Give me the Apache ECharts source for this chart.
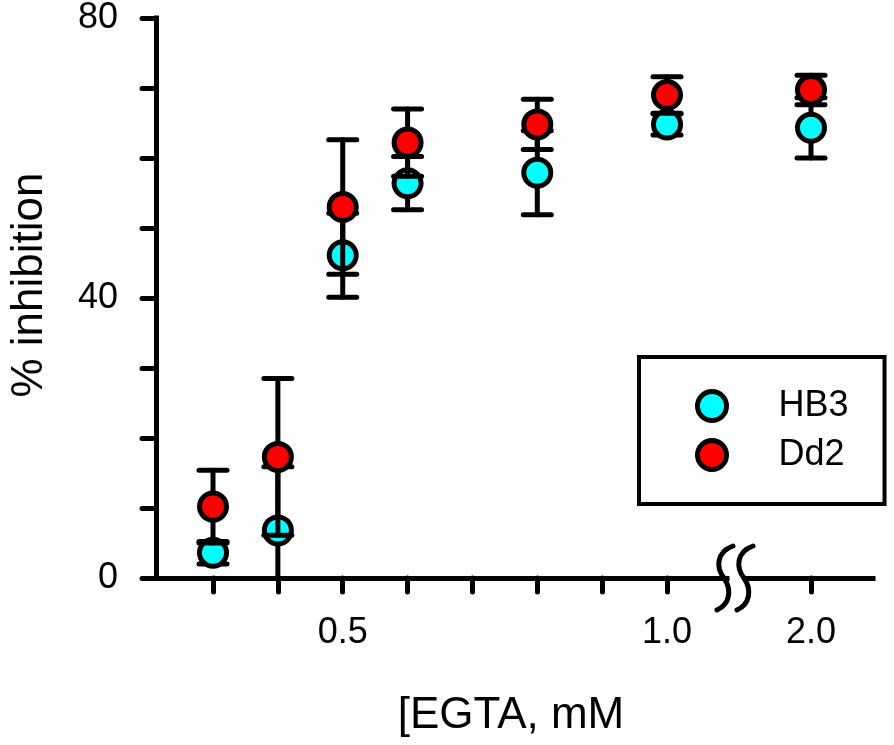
<!DOCTYPE html>
<html><head><meta charset="utf-8">
<script src="https://cdn.jsdelivr.net/npm/echarts@6/dist/echarts.min.js"></script>
<style>html,body{margin:0;padding:0;background:#fff}#c{width:894px;height:745px}</style>
</head><body><div id="c"></div>
<script>
// ---- data ----
const egta = [0.3, 0.4, 0.5, 0.6, 0.8, 1.0, 2.0];
const hb3Mean = [3.6, 6.8, 46.1, 56.4, 57.9, 64.8, 64.2];
const hb3Err  = [1.6, 9.1, 6.0, 3.8, 6.0, 1.5, 4.3];
const dd2Mean = [10.2, 17.3, 53.0, 62.2, 64.8, 69.0, 69.6];
const dd2Err  = [5.2, 11.2, 9.6, 4.8, 3.6, 2.6, 2.1];
const xTicksLeft = [0.3, 0.4, 0.5, 0.6, 0.7, 0.8, 0.9, 1.0];
const xLabelsLeft = [0.5, 1.0];
const xTicksRight = [2.0];
const xLabelsRight = [2.0];
const yLabels = [0, 40, 80];
const breakRange = [1.1, 1.9];
const seriesNames = ['HB3', 'Dd2'];

const FONT = 'Liberation Sans, Arial, sans-serif';
const LW = 5;
const chart = echarts.init(document.getElementById('c'), null, {renderer: 'canvas'});

function pick(g, arrFn) {
  const out = [];
  egta.forEach((x, i) => {
    const inLeft = x < breakRange[0];
    if ((g === 0 && inLeft) || (g === 1 && x > breakRange[1])) out.push(arrFn(x, i));
  });
  return out;
}

function errRender(params, api) {
  const x = api.value(0), lo = api.value(1), hi = api.value(2);
  const pHi = api.coord([x, hi]), pLo = api.coord([x, lo]);
  const w = 14;
  const style = {stroke: '#000', lineWidth: LW, lineCap: 'round'};
  return {type: 'group', children: [
    {type: 'line', shape: {x1: pHi[0], y1: pHi[1], x2: pLo[0], y2: pLo[1]}, style: style},
    {type: 'line', shape: {x1: pHi[0] - w, y1: pHi[1], x2: pHi[0] + w, y2: pHi[1]}, style: style},
    {type: 'line', shape: {x1: pLo[0] - w, y1: pLo[1], x2: pLo[0] + w, y2: pLo[1]}, style: style}
  ]};
}

const means = [hb3Mean, dd2Mean];
const errs = [hb3Err, dd2Err];
const colors = ['#00FFFF', '#FF0000'];
const series = [];
[0, 1].forEach(g => {
  [0, 1].forEach(s => {
    series.push({
      name: seriesNames[s] + ' error', type: 'custom', xAxisIndex: g, yAxisIndex: g,
      clip: true, z: 2 + s * 2, silent: true,
      renderItem: errRender,
      data: pick(g, (x, i) => [x, means[s][i] - errs[s][i], means[s][i] + errs[s][i]])
    });
    series.push({
      name: seriesNames[s], type: 'scatter', xAxisIndex: g, yAxisIndex: g,
      z: 3 + s * 2, symbol: 'circle', symbolSize: 27,
      itemStyle: {color: colors[s], borderColor: '#000', borderWidth: LW, opacity: 1},
      data: pick(g, (x, i) => [x, means[s][i]])
    });
  });
});

const axisLineStyle = {color: '#000', width: LW, cap: 'square'};
const tickStyle = {color: '#000', width: LW, cap: 'round'};
const labelStyle = {color: '#000', fontSize: 36, fontFamily: FONT};

function breakMark(dx) {
  const st = {stroke: '#000', lineWidth: LW, fill: null, lineCap: 'round'};
  return [
    {type: 'bezierCurve', z: 10, shape: {x1: 733 + dx, y1: 546, cpx1: 716 + dx, cpy1: 552, cpx2: 716 + dx, cpy2: 568, x2: 724 + dx, y2: 578}, style: st},
    {type: 'bezierCurve', z: 10, shape: {x1: 724 + dx, y1: 578, cpx1: 732 + dx, cpy1: 590, cpx2: 730 + dx, cpy2: 604, x2: 717 + dx, y2: 610}, style: st}
  ];
}

const option = {
  animation: false,
  backgroundColor: '#fff',
  grid: [
    {left: 156, top: 17, width: 571, height: 561},
    {left: 748, top: 17, width: 125, height: 561}
  ],
  xAxis: [
    {type: 'value', gridIndex: 0, min: 0.2121, max: 1.0925,
     splitLine: {show: false},
     axisLine: {show: true, lineStyle: axisLineStyle},
     axisTick: {show: true, length: 14, customValues: xTicksLeft, lineStyle: tickStyle},
     axisLabel: Object.assign({margin: 37, customValues: xLabelsLeft, formatter: v => Number(v).toFixed(1)}, labelStyle)},
    {type: 'value', gridIndex: 1, min: 1.9029, max: 2.0956,
     splitLine: {show: false},
     axisLine: {show: true, lineStyle: axisLineStyle},
     axisTick: {show: true, length: 14, customValues: xTicksRight, lineStyle: tickStyle},
     axisLabel: Object.assign({margin: 37, customValues: xLabelsRight, formatter: v => Number(v).toFixed(1)}, labelStyle)}
  ],
  yAxis: [
    {type: 'value', gridIndex: 0, min: 0, max: 80, interval: 10,
     splitLine: {show: false},
     axisLine: {show: true, lineStyle: axisLineStyle},
     axisTick: {show: true, length: 14, lineStyle: tickStyle},
     axisLabel: Object.assign({margin: 38, customValues: yLabels}, labelStyle)},
    {type: 'value', gridIndex: 1, min: 0, max: 80, show: false, splitLine: {show: false}}
  ],
  legend: {
    data: seriesNames, orient: 'vertical', left: 639, top: 357,
    padding: [31, 36, 31, 56], borderColor: '#000', borderWidth: 4, borderRadius: 0,
    itemWidth: 29, itemHeight: 29, itemGap: 13, icon: 'circle', selectedMode: false,
    itemStyle: {borderColor: '#000', borderWidth: LW},
    textStyle: {fontSize: 36, fontFamily: FONT, color: '#000', lineHeight: 36, padding: [0, 0, 0, 47]}
  },
  graphic: [
    {type: 'text', x: 511, y: 716, style: {text: '[EGTA, mM', fontSize: 44, fontFamily: FONT, fill: '#000', textAlign: 'center', textVerticalAlign: 'middle'}},
    {type: 'text', x: 30, y: 285, rotation: Math.PI / 2, style: {text: '% inhibition', fontSize: 44, fontFamily: FONT, fill: '#000', textAlign: 'center', textVerticalAlign: 'middle'}}
  ].concat(breakMark(0), breakMark(20)),
  series: series
};
chart.setOption(option);
</script>
</body></html>
